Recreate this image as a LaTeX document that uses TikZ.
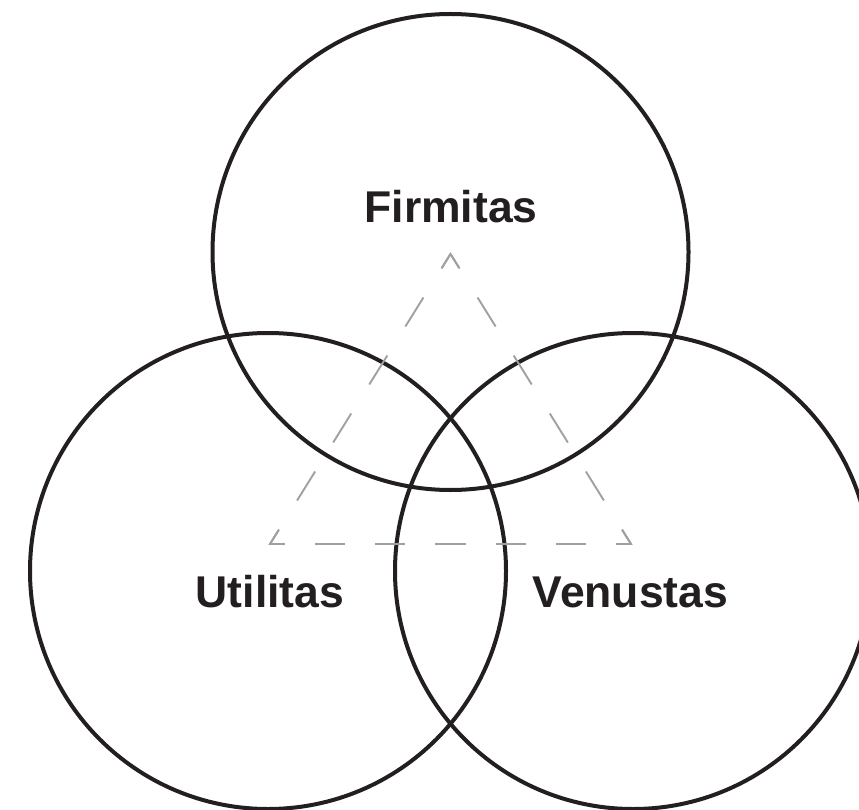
\documentclass[tikz,border=0pt]{standalone}
\usepackage{fontspec}
\setmainfont{Liberation Sans}
\usetikzlibrary{calc}
\definecolor{ink}{HTML}{231F20}
\definecolor{dashgray}{HTML}{A0A0A0}
\begin{document}
\begin{tikzpicture}[x=1pt,y=-1pt,
  ring/.style={draw=ink,line width=4pt},
  tri/.style={draw=dashgray,line width=1.9pt},
  label/.style={font=\fontsize{44.5}{50}\selectfont\bfseries,text=ink,anchor=base,inner sep=0pt}]
\useasboundingbox (0,0) rectangle (859,810);
\draw[ring] (450.5,252) circle[radius=238];
\draw[ring] (268,571) circle[radius=238];
\draw[ring] (633,571) circle[radius=238];
\coordinate (apex) at (450.5,254);
\coordinate (bl) at (270,544);
\coordinate (br) at (631,544);
% sides: half dash at each end
\draw[tri,dash pattern=on 34.16pt off 34.16pt,dash phase=17.08pt] (bl) -- (apex);
\draw[tri,dash pattern=on 34.16pt off 34.16pt,dash phase=17.08pt] (apex) -- (br);
\draw[tri,dash pattern=on 30.08pt off 30.08pt,dash phase=15.04pt] (bl) -- (br);
% mitred corners
\draw[tri,line join=miter] ($(apex)!16pt!(bl)$) -- (apex) -- ($(apex)!16pt!(br)$);
\draw[tri,line join=miter] ($(bl)!16pt!(apex)$) -- (bl) -- ($(bl)!14pt!(br)$);
\draw[tri,line join=miter] ($(br)!16pt!(apex)$) -- (br) -- ($(br)!14pt!(bl)$);
\node[label] (firm) at (451,223) {Firmitas};
\node[label] (util) at (270,607) {Utilitas};
\node[label] (venu) at (630.5,607) {Venustas};
\end{tikzpicture}
\end{document}
